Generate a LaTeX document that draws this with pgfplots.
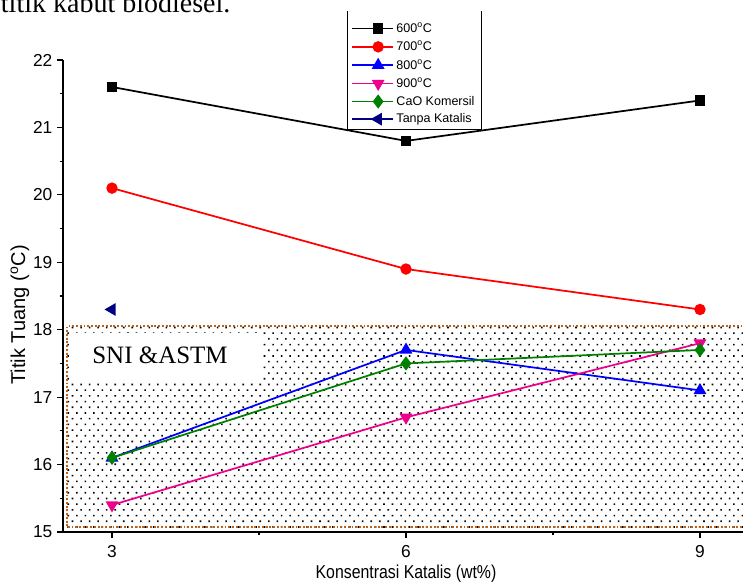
\documentclass[border=0pt]{standalone}
\usepackage{pgfplots}
\pgfplotsset{compat=1.18}
\usepackage{fontspec}
\setmainfont{Liberation Sans}
\newfontfamily\condfont[FakeStretch=0.85]{Liberation Sans}
\newfontfamily\timesfont{Liberation Serif}
\usetikzlibrary{patterns}
\definecolor{brownb}{RGB}{184,98,30}
\definecolor{navyb}{RGB}{0,0,128}
\definecolor{dgreen}{RGB}{0,128,0}
\pgfdeclarepatternformonly{sparsedots}{\pgfqpoint{-1pt}{-1pt}}{\pgfqpoint{7.4pt}{9.55pt}}{\pgfqpoint{6.4pt}{8.55pt}}{%
  \pgfpathrectangle{\pgfqpoint{-0.6pt}{-0.6pt}}{\pgfqpoint{1.2pt}{1.2pt}}%
  \pgfpathrectangle{\pgfqpoint{2.6pt}{3.67pt}}{\pgfqpoint{1.2pt}{1.2pt}}%
  \pgfusepath{fill}}
\begin{document}
\begin{tikzpicture}
\begin{axis}[
  at={(47.25pt,-399pt)}, anchor=south west,
  scale only axis, width=514.5pt, height=354pt,
  xmin=2.5, xmax=9.5, ymin=15, ymax=22,
  axis x line*=bottom, axis y line*=left,
  axis line style={-, line width=1pt, black},
  xtick={3,6,9}, minor xtick={4.5,7.5},
  ytick={15,16,...,22}, minor ytick={15.5,16.5,...,21.5},
  tick align=outside,
  major tick length=4.5pt, minor tick length=2.6pt,
  tick style={black, line width=0.9pt},
  /pgf/number format/assume math mode=true,
  ticklabel style={font=\fontsize{13pt}{15pt}\selectfont},
  xticklabel style={yshift=-2pt},
  xlabel={Konsentrasi Katalis (wt\%)},
  ylabel={Titik Tuang (\textsuperscript{o}C)},
  xlabel style={font=\condfont\fontsize{14pt}{16pt}\selectfont, at={(axis description cs:0.5,0)}, anchor=center, yshift=-31.5pt},
  ylabel style={font=\fontsize{15pt}{17pt}\selectfont, at={(axis description cs:-0.0627,0.46)}, anchor=center},
  legend style={anchor=south west, draw=black, line width=0.75pt, fill=white,
    font=\fontsize{9.4pt}{11pt}\selectfont, inner xsep=3pt, inner ysep=1.5pt, row sep=0.9pt},
  legend style={at={(0.414,0.852)}},
  legend cell align=left,
  legend image code/.code={\path (0cm,0cm) -- (1.07cm,0cm);\draw[line width=1.3pt, mark repeat=2,mark phase=2] plot coordinates {(0.32cm,0cm) (0.68cm,0cm) (1.04cm,0cm)};},
]
\addlegendimage{empty legend}\addlegendentry{}
% standard region
\fill[pattern=sparsedots] (axis cs:2.54,15.07) rectangle (axis cs:9.7,18.05);
\fill[white] (axis cs:2.56,17.25) rectangle (axis cs:4.54,17.95);
\draw[brownb, line width=1.6pt, dash pattern=on 1.4pt off 1.4pt] (axis cs:9.7,18.05) -- (axis cs:2.54,18.05) -- (axis cs:2.54,15.07) -- (axis cs:9.7,15.07);
\node[anchor=base, font=\timesfont\fontsize{18.75pt}{20pt}\selectfont, inner sep=0pt] at (axis cs:3.49,17.5) {SNI \&ASTM};

\addplot[black, line width=1.3pt, mark=square*, mark size=3.3pt] coordinates {(3,21.6) (6,20.8) (9,21.4)};
\addlegendentry{600\textsuperscript{o}C}
\addplot[red, line width=1.3pt, mark=*, mark size=3.6pt] coordinates {(3,20.1) (6,18.9) (9,18.3)};
\addlegendentry{700\textsuperscript{o}C}
\addplot[blue, line width=1.3pt, mark=triangle*, mark size=4.3pt] coordinates {(3,16.1) (6,17.7) (9,17.1)};
\addlegendentry{800\textsuperscript{o}C}
\addplot[magenta, line width=1.3pt, mark=triangle*, mark size=4.3pt, mark options={rotate=180}] coordinates {(3,15.4) (6,16.7) (9,17.8)};
\addlegendentry{900\textsuperscript{o}C}
\addplot[dgreen, line width=1.3pt, mark=diamond*, mark size=4.3pt] coordinates {(3,16.1) (6,17.5) (9,17.7)};
\addlegendentry{CaO Komersil}
\addplot[navyb, line width=1.3pt, mark=triangle*, mark size=4.3pt, mark options={rotate=90}] coordinates {(3,18.3)};
\addlegendentry{Tanpa Katalis}
\end{axis}
\fill[white] (250pt,1pt) rectangle (370pt,-8.25pt);
\node[anchor=base west, inner sep=0pt, font=\timesfont\fontsize{21pt}{24pt}\selectfont] at (0.5pt,-9.75pt) {titik kabut biodiesel.};
\pgfresetboundingbox
\useasboundingbox (0pt,0pt) rectangle (557.25pt,-438pt);
\end{tikzpicture}
\end{document}
